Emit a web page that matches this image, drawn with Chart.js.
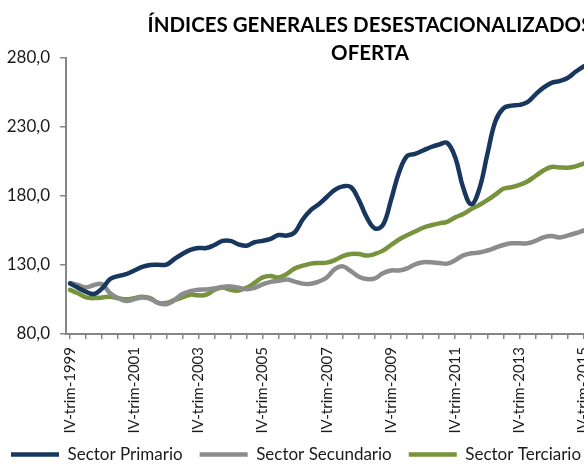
<!DOCTYPE html>
<html>
<head>
<meta charset="utf-8">
<script src="https://cdn.jsdelivr.net/npm/chart.js@4"></script>
<style>
  html, body { margin: 0; padding: 0; background: #fff; overflow: hidden; }
  .chart-box { position: relative; width: 746px; height: 465px; }
</style>
</head>
<body>
<div class="chart-box"><canvas id="ofertaChart"></canvas></div>
<script>
// trimestres, IV-1999 en adelante (la parte derecha del gráfico queda recortada)
const quarters = [
  'IV-trim-1999',
  'I-trim-2000', 'II-trim-2000', 'III-trim-2000', 'IV-trim-2000',
  'I-trim-2001', 'II-trim-2001', 'III-trim-2001', 'IV-trim-2001',
  'I-trim-2002', 'II-trim-2002', 'III-trim-2002', 'IV-trim-2002',
  'I-trim-2003', 'II-trim-2003', 'III-trim-2003', 'IV-trim-2003',
  'I-trim-2004', 'II-trim-2004', 'III-trim-2004', 'IV-trim-2004',
  'I-trim-2005', 'II-trim-2005', 'III-trim-2005', 'IV-trim-2005',
  'I-trim-2006', 'II-trim-2006', 'III-trim-2006', 'IV-trim-2006',
  'I-trim-2007', 'II-trim-2007', 'III-trim-2007', 'IV-trim-2007',
  'I-trim-2008', 'II-trim-2008', 'III-trim-2008', 'IV-trim-2008',
  'I-trim-2009', 'II-trim-2009', 'III-trim-2009', 'IV-trim-2009',
  'I-trim-2010', 'II-trim-2010', 'III-trim-2010', 'IV-trim-2010',
  'I-trim-2011', 'II-trim-2011', 'III-trim-2011', 'IV-trim-2011',
  'I-trim-2012', 'II-trim-2012', 'III-trim-2012', 'IV-trim-2012',
  'I-trim-2013', 'II-trim-2013', 'III-trim-2013', 'IV-trim-2013',
  'I-trim-2014', 'II-trim-2014', 'III-trim-2014', 'IV-trim-2014',
  'I-trim-2015', 'II-trim-2015', 'III-trim-2015', 'IV-trim-2015',
  'I-trim-2016', 'II-trim-2016', 'III-trim-2016', 'IV-trim-2016',
  'I-trim-2017', 'II-trim-2017', 'III-trim-2017', 'IV-trim-2017',
  'I-trim-2018', 'II-trim-2018', 'III-trim-2018', 'IV-trim-2018',
  'I-trim-2019', 'II-trim-2019', 'III-trim-2019', 'IV-trim-2019',
  'I-trim-2020'
];

const sectorPrimario = [
  116.6, 113.5, 110.5, 109, 113, 119.8, 122, 123.3, 126, 128.6, 130, 130.2, 130.2,
  134.3, 138, 141, 142.3, 142.3, 144.5, 147.5, 147.5, 145, 144, 146.5, 147.5,
  149, 151.7, 151.3, 153.7, 163, 169.8, 174, 179.3, 184.5, 187, 186.5, 177,
  164.3, 156.5, 159, 177, 197, 209, 210.5, 213, 215.5, 217.3, 218.5, 208,
  186, 174, 185, 210, 234, 243.5, 245.5, 246, 248, 253.5, 258.5, 262,
  263.3, 265.5, 270, 274
];

const sectorSecundario = [
  117, 115.5, 113.7, 115.5, 116, 109.5, 106, 104, 105.2, 106.5, 105.5, 102.5, 101.6,
  104.5, 109, 111, 112, 112.3, 113, 114, 114.5, 113.5, 112.5, 113.5, 116,
  117.8, 118.5, 119.5, 118, 116.5, 116.4, 118, 121, 127, 129, 125.5, 121.5,
  119.8, 120.3, 124, 126, 126, 127.5, 130.5, 132, 132, 131.5, 131, 133.5,
  137, 138.5, 139, 140.5, 142.5, 144.5, 145.7, 145.7, 145.7, 147.5, 150, 151,
  150, 151.3, 153, 155
];

const sectorTerciario = [
  112, 109.5, 106.5, 106, 106.5, 107, 106, 105.2, 106, 107, 106, 102.5, 102.5,
  104.5, 106.5, 108.5, 108, 108.5, 112, 113.7, 112, 111.5, 113.5, 117, 121,
  122, 121, 123.5, 127.5, 129.5, 131, 131.5, 131.7, 133.5, 136.5, 138, 138,
  136.8, 138, 140.4, 144.5, 148.5, 151.5, 154.3, 157, 158.8, 160.2, 161.3, 164.5,
  167, 170.5, 173.5, 177, 181, 185.2, 186.3, 188, 190.5, 194.5, 198.5, 201,
  200.7, 200.5, 201.5, 203.5
];

const axisGrey = '#868686';
const ctx = document.getElementById('ofertaChart').getContext('2d');

function serie(label, data, color) {
  return {
    label,
    data,
    borderColor: color,
    backgroundColor: color,
    borderWidth: 4.5,
    borderCapStyle: 'round',
    borderJoinStyle: 'round',
    tension: 0.4,
    pointRadius: 0,
    fill: false
  };
}

// the x labels run down into the legend band, so don't clip them to the axis box
const unclipXLabels = {
  id: 'unclipXLabels',
  beforeDraw(chart) {
    chart.scales.x.bottom = chart.height;
  }
};

new Chart(ctx, {
  type: 'line',
  data: {
    labels: quarters,
    datasets: [
      serie('Sector Primario', sectorPrimario, '#17375E'),
      serie('Sector Secundario', sectorSecundario, '#8C8C8C'),
      serie('Sector Terciario', sectorTerciario, '#77933C')
    ]
  },
  options: {
    responsive: true,
    maintainAspectRatio: false,
    animation: false,
    layout: { padding: { left: -6, right: 0, top: 0, bottom: -8 } },
    scales: {
      x: {
        offset: true,
        border: { display: true, color: axisGrey, width: 2 },
        grid: {
          drawOnChartArea: false,
          tickLength: 5,
          lineWidth: 1.5,
          color: c => (c.index % 2 === 0 ? axisGrey : 'rgba(0,0,0,0)')
        },
        ticks: {
          autoSkip: false,
          minRotation: 90,
          maxRotation: 90,
          padding: 8,
          color: '#1a1a1a',
          font: { family: 'Lato', size: 15 },
          callback: function (val, i) {
            return i % 8 === 0 ? this.getLabelForValue(val) : '';
          }
        },
        afterFit: scale => { scale.height = 95; }
      },
      y: {
        min: 80,
        max: 280,
        border: { display: true, color: axisGrey, width: 2 },
        grid: { drawOnChartArea: false, tickLength: 6, lineWidth: 1.5, color: axisGrey },
        ticks: {
          stepSize: 50,
          padding: 10,
          color: '#1a1a1a',
          font: { family: 'Lato', size: 17 },
          callback: v => v.toFixed(1).replace('.', ',')
        },
        afterFit: scale => { scale.width = 72; }
      }
    },
    plugins: {
      title: {
        display: true,
        text: ['ÍNDICES GENERALES DESESTACIONALIZADOS', 'OFERTA'],
        color: '#000',
        font: { family: 'Lato', size: 20.5, weight: 'bold', lineHeight: 1.366 },
        padding: { top: 11, bottom: -9 }
      },
      legend: {
        position: 'bottom',
        align: 'start',
        labels: {
          usePointStyle: true,
          pointStyle: 'line',
          pointStyleWidth: 48,
          padding: 17,
          color: '#1a1a1a',
          font: { family: 'Lato', size: 17 }
        }
      },
      tooltip: { enabled: false }
    }
  },
  plugins: [unclipXLabels]
});
</script>
</body>
</html>
